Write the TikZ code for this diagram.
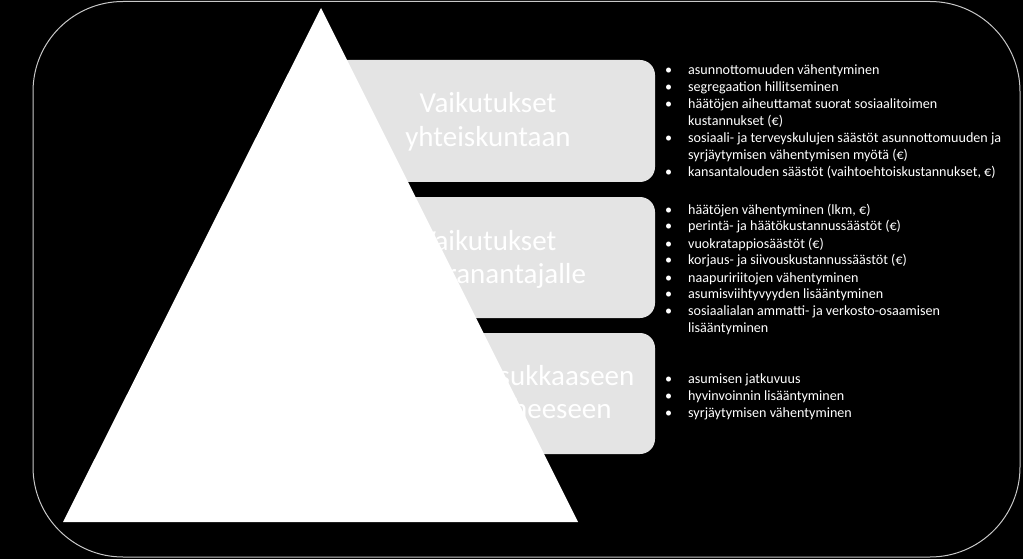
\documentclass[tikz,border=0pt]{standalone}
\usepackage{fontspec}
\setmainfont{Carlito}
\definecolor{boxgray}{HTML}{E4E4E4}
\definecolor{framegray}{HTML}{C8C8C8}
\newcommand\blitem[1]{\makebox[23pt][l]{•}#1\par}
\newcommand\blcont[1]{\hspace*{23pt}#1\par}
\tikzset{
  tier/.style={fill=boxgray, rounded corners=15pt, inner sep=0pt, draw=none},
  tiertitle/.style={anchor=base, inner sep=0pt, text=white, font=\fontsize{29}{33.5}\selectfont},
  bullets/.style={anchor=base west, inner sep=0pt, text=white, font=\fontsize{14.1}{17}\selectfont},
}
\begin{document}
\begin{tikzpicture}[x=1pt,y=-1pt]
\fill[black] (0,0) rectangle (1023,559);
\useasboundingbox (0,0) rectangle (1023,559);
\draw[framegray, line width=1pt, rounded corners=90pt] (33,1.5) rectangle (1020,557);
% tiers
\node[tier, minimum width=365pt, minimum height=122pt] (t1) at (472.5,121) {};
\node[tier, minimum width=365pt, minimum height=121pt] (t2) at (472.5,257.5) {};
\node[tier, minimum width=365pt, minimum height=121pt] (t3) at (472.5,393.5) {};
\node[tiertitle] (h1) at (488,113) {\parbox[t]{340pt}{\centering Vaikutukset\\yhteiskuntaan}};
\node[tiertitle] (h2) at (488,250) {\parbox[t]{340pt}{\centering Vaikutukset\\vuokranantajalle}};
\node[tiertitle] (h3) at (488,385) {\parbox[t]{340pt}{\centering Vaikutukset asukkaaseen\\ja hänen perheeseen}};
% pyramid
\fill[white] (321,8) -- (578,522) -- (63,522) -- cycle;
% lists
\node[bullets] (l1) at (665,75) {\parbox[t]{360pt}{%
\blitem{asunnottomuuden vähentyminen}
\blitem{segregaation hillitseminen}
\blitem{häätöjen aiheuttamat suorat sosiaalitoimen}
\blcont{kustannukset (€)}
\blitem{sosiaali- ja terveyskulujen säästöt asunnottomuuden ja}
\blcont{syrjäytymisen vähentymisen myötä (€)}
\blitem{kansantalouden säästöt (vaihtoehtoiskustannukset, €)}}};
\node[bullets] (l2) at (665,214) {\parbox[t]{360pt}{%
\blitem{häätöjen vähentyminen (lkm, €)}
\blitem{perintä- ja häätökustannussäästöt (€)}
\blitem{vuokratappiosäästöt (€)}
\blitem{korjaus- ja siivouskustannussäästöt (€)}
\blitem{naapuririitojen vähentyminen}
\blitem{asumisviihtyvyyden lisääntyminen}
\blitem{sosiaalialan ammatti- ja verkosto-osaamisen}
\blcont{lisääntyminen}}};
\node[bullets] (l3) at (665,383) {\parbox[t]{360pt}{%
\blitem{asumisen jatkuvuus}
\blitem{hyvinvoinnin lisääntyminen}
\blitem{syrjäytymisen vähentyminen}}};
\end{tikzpicture}
\end{document}
